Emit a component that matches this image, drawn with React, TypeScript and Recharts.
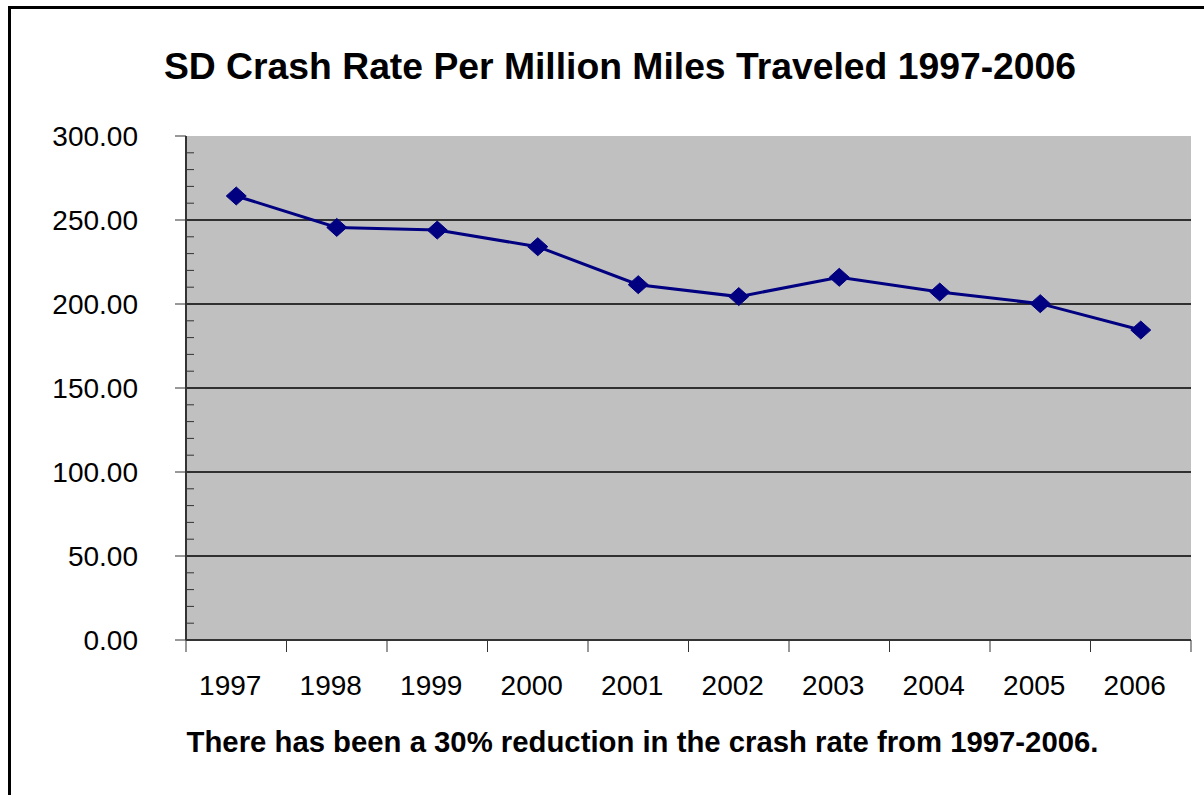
import React from 'react'
import {
  LineChart, Line, XAxis, YAxis, CartesianGrid,
} from 'recharts'

const years = ['1997', '1998', '1999', '2000', '2001', '2002', '2003', '2004', '2005', '2006']
const crashRates = [264.3, 245.6, 244.0, 234.1, 211.5, 204.4, 215.9, 207.1, 200.2, 184.5]
const yTicks = [0, 10, 20, 30, 40, 50, 60, 70, 80, 90, 100, 110, 120, 130, 140, 150, 160, 170, 180, 190, 200, 210, 220, 230, 240, 250, 260, 270, 280, 290, 300]
const gridValues = [50, 100, 150, 200, 250]

const title = 'SD Crash Rate Per Million Miles Traveled 1997-2006'
const footnote = 'There has been a 30% reduction in the crash rate from 1997-2006.'

const W = 1204
const H = 795
const FONT = '"Liberation Sans", Arial, sans-serif'
const Y_AXIS_W = 186
const MARGIN = { top: 136, right: 13, bottom: 95, left: 0 }
const PLOT_W = W - MARGIN.left - MARGIN.right - Y_AXIS_W
const BAND = PLOT_W / years.length
const Y_TICK = 11
const Y_GAP = 37
const X_GAP = 35

const data = years.map((y, i) => ({ year: y, rate: crashRates[i] }))

function YTick(props: any) {
  const { x, y, payload } = props
  const axisX = x + Y_TICK + Y_GAP
  const major = payload.value % 50 === 0
  if (!major) {
    return <line x1={axisX} x2={axisX + 8} y1={y} y2={y} stroke="#333" strokeWidth={1} />
  }
  return (
    <g>
      <line x1={axisX - Y_TICK} x2={axisX} y1={y} y2={y} stroke="#333" strokeWidth={1} />
      <text x={x} y={y} dy="0.355em" textAnchor="end" fontSize={28} fill="#000" fontFamily={FONT}>
        {payload.value.toFixed(2)}
      </text>
    </g>
  )
}

function XTick(props: any) {
  const { x, y, payload } = props
  const idx = years.indexOf(payload.value)
  const axisY = y - X_GAP
  const left = x - BAND / 2
  return (
    <g>
      <line x1={left} x2={left} y1={axisY} y2={axisY + 12} stroke="#333" strokeWidth={1} />
      {idx === years.length - 1 && (
        <line x1={x + BAND / 2} x2={x + BAND / 2} y1={axisY} y2={axisY + 12} stroke="#333" strokeWidth={1} />
      )}
      <text x={x} y={y} dx={-6} dy="0.71em" textAnchor="middle" fontSize={28} fill="#000" fontFamily={FONT}>
        {payload.value}
      </text>
    </g>
  )
}

function Diamond(props: any) {
  const { cx, cy, index } = props
  if (cx == null || cy == null) return <g key={index} />
  return (
    <polygon
      key={index}
      points={`${cx},${cy - 9} ${cx + 10},${cy} ${cx},${cy + 9} ${cx - 10},${cy}`}
      fill="#000080"
      stroke="#000080"
    />
  )
}

export default function App() {
  return (
    <div style={{ position: 'absolute', left: 0, top: 0, width: W, height: H, overflow: 'hidden', background: '#fff', fontFamily: FONT }}>
      <div style={{ position: 'absolute', left: 8, top: 6, width: 1400, height: 1000, border: '3px solid #000' }} />
      <div style={{ position: 'absolute', left: 0, top: 0 }}>
        <LineChart width={W} height={H} data={data} margin={MARGIN}>
          <CartesianGrid
            vertical={false}
            horizontalValues={gridValues}
            stroke="#000"
            strokeOpacity={1}
            strokeWidth={1.3}
            fill="#C0C0C0"
            fillOpacity={1}
          />
          <XAxis
            dataKey="year"
            scale="band"
            height={60}
            tick={<XTick />}
            tickLine={false}
            tickSize={0}
            tickMargin={X_GAP}
            interval={0}
            axisLine={{ stroke: '#333', strokeWidth: 2 }}
          />
          <XAxis
            xAxisId="top"
            orientation="top"
            dataKey="year"
            scale="band"
            height={0}
            tick={false}
            tickLine={false}
            axisLine={{ stroke: '#808080', strokeWidth: 2 }}
          />
          <YAxis
            width={Y_AXIS_W}
            domain={[0, 300]}
            ticks={yTicks}
            interval={0}
            tick={<YTick />}
            tickLine={false}
            tickSize={Y_TICK}
            tickMargin={Y_GAP}
            axisLine={{ stroke: '#333', strokeWidth: 2 }}
          />
          <YAxis
            yAxisId="right"
            orientation="right"
            width={0}
            domain={[0, 300]}
            tick={false}
            tickLine={false}
            axisLine={{ stroke: '#808080', strokeWidth: 3 }}
          />
          <Line
            dataKey="rate"
            type="linear"
            stroke="#000080"
            strokeWidth={3}
            dot={Diamond}
            activeDot={false}
            isAnimationActive={false}
          />
        </LineChart>
      </div>
      <div style={{ position: 'absolute', left: 0, top: 47.5, width: 1240, textAlign: 'center', fontSize: 37.3, lineHeight: 1, fontWeight: 'bold', color: '#000', whiteSpace: 'nowrap' }}>
        {title}
      </div>
      <div style={{ position: 'absolute', left: 0, top: 727.3, width: 1285, textAlign: 'center', fontSize: 29.3, lineHeight: 1, fontWeight: 'bold', color: '#000', whiteSpace: 'nowrap' }}>
        {footnote}
      </div>
    </div>
  )
}
